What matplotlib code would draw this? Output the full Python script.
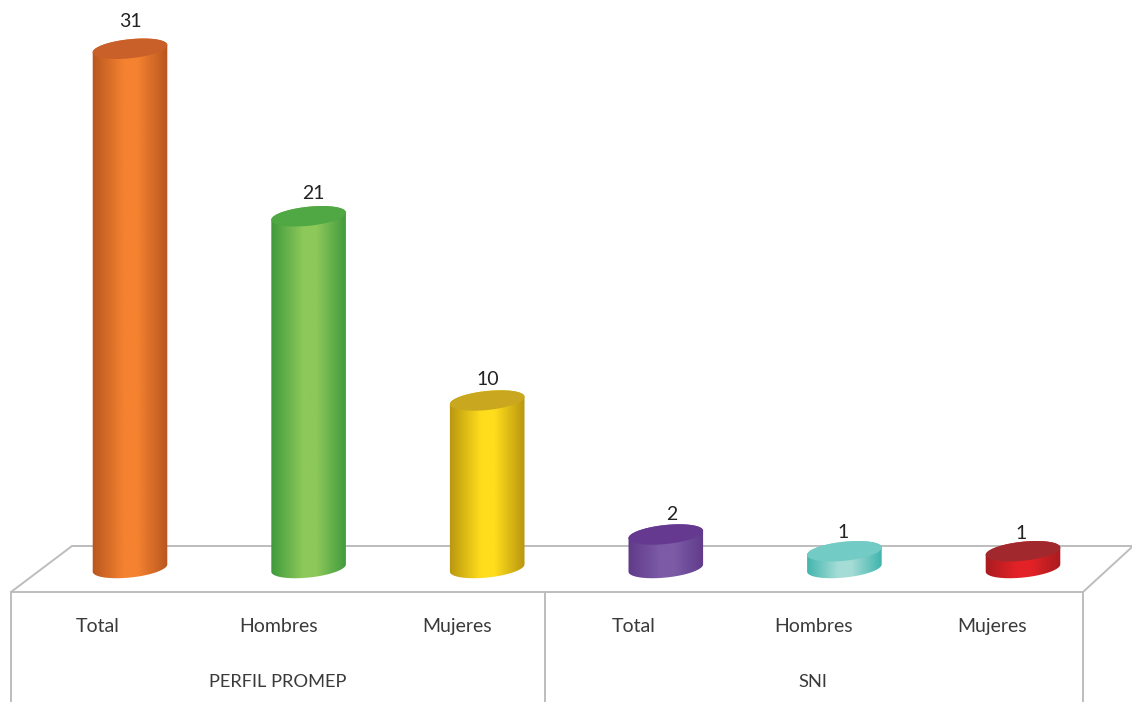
import matplotlib
matplotlib.use('Agg')
import matplotlib.pyplot as plt
from matplotlib.colors import LinearSegmentedColormap
from matplotlib.patches import Polygon
import numpy as np

plt.rcParams['font.family'] = ['Lato', 'DejaVu Sans']

groups = ['PERFIL PROMEP', 'SNI']
categories = ['Total', 'Hombres', 'Mujeres', 'Total', 'Hombres', 'Mujeres']
values = [31, 21, 10, 2, 1, 1]

# edge, middle, top colours for each cylinder
edge_colors = ['#b8561f', '#3f9a3c', '#b8960f', '#5f3a8a', '#3fb5ad', '#a81c20']
mid_colors = ['#f58230', '#8dc85a', '#ffdd1c', '#7d5ba6', '#a5dcd6', '#e32227']
top_colors = ['#c9602a', '#4fa843', '#c9a820', '#65398f', '#72cbc5', '#a1292d']

PX_X = 178.6   # pixels per category
PX_Y = 16.75   # pixels per unit
X0 = 130
Y0 = 568
W, H = 1132, 702
TEXT = '#3a3a3a'
GRID = '#bdbdbd'

# value labels do not sit exactly over the bars
label_dx = [0, 5, 1, 6, -1, -2]
label_dy = [27, 23, 21, 20, 19, 18]

fig = plt.figure(figsize=(W / 100, H / 100), dpi=100)

# floor and table lines, in pixels
frame = fig.add_axes([0, 0, 1, 1])
frame.set_xlim(0, W)
frame.set_ylim(H, 0)
frame.axis('off')
frame.plot([1132, 72, 11, 1083, 1132], [546, 546, 592, 592, 547], color=GRID, lw=1.4)
for x in [11, 545, 1083]:
    frame.plot([x, x], [592, H], color=GRID, lw=1.4)

for x, c in zip([98, 279, 457, 634, 814, 992], categories):
    frame.text(x, 632, c, ha='center', va='baseline', fontsize=14, color=TEXT)
for x, g in zip([278, 813], groups):
    frame.text(x, 687, g, ha='center', va='baseline', fontsize=13.2, color=TEXT)

# the bars, in data units
ax = fig.add_axes([0, 0, 1, 1])
ax.patch.set_alpha(0)


def ellipse(t):
    # slightly tilted ellipse, returned in data units
    a, b = 37.5, 9.5
    ang = np.radians(6)
    ex = a * np.cos(t) * np.cos(ang) - b * np.sin(t) * np.sin(ang)
    ey = a * np.cos(t) * np.sin(ang) + b * np.sin(t) * np.cos(ang)
    return ex / PX_X, ey / PX_Y


for i, v in enumerate(values):
    cmap = LinearSegmentedColormap.from_list(
        'c', [(0, edge_colors[i]), (0.42, mid_colors[i]), (0.6, mid_colors[i]), (1, edge_colors[i])])
    low = np.linspace(np.pi, 2 * np.pi, 60)
    up = np.linspace(0, np.pi, 60)
    lx, ly = ellipse(low)
    tx, ty = ellipse(up)
    side = np.column_stack([np.r_[i + lx, i + tx], np.r_[ly, v + ty]])
    poly = Polygon(side, closed=True, fc='none', ec='none', transform=ax.transData)
    ax.add_patch(poly)
    half = 38 / PX_X
    im = ax.imshow(np.linspace(0, 1, 200).reshape(1, -1), cmap=cmap, aspect='auto',
                   extent=[i - half, i + half, -2, v + 2], zorder=2,
                   interpolation='bilinear')
    im.set_clip_path(poly)
    t = np.linspace(0, 2 * np.pi, 120)
    ex, ey = ellipse(t)
    ax.fill(i + ex, v + ey, color=top_colors[i], zorder=3, lw=0)
    ax.annotate(str(v), (i, v), xytext=(label_dx[i] * 0.72, label_dy[i] * 0.72),
                textcoords='offset points', ha='center', va='center',
                fontsize=14, color='#222222', zorder=4)

ax.set_xlim(-X0 / PX_X, (W - X0) / PX_X)
ax.set_ylim((Y0 - H) / PX_Y, Y0 / PX_Y)
ax.axis('off')

fig.savefig('out.png', dpi=100, facecolor='white')
